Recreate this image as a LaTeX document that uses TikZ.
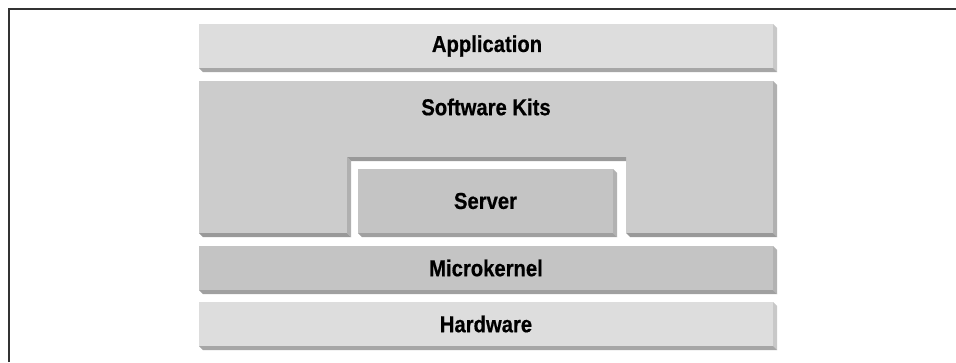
\documentclass[tikz,border=0pt]{standalone}
\usepackage{fontspec}
\newfontfamily\labfont[FakeStretch=0.88,FakeBold=0.6]{Liberation Sans}
\definecolor{lfface}{HTML}{DDDDDD}
\definecolor{lfside}{HTML}{C8C8C8}
\definecolor{lfbot}{HTML}{A6A6A6}
\definecolor{skface}{HTML}{CCCCCC}
\definecolor{skside}{HTML}{B0B0B0}
\definecolor{skbot}{HTML}{999999}
\definecolor{mdface}{HTML}{C4C4C4}
\definecolor{mdside}{HTML}{B2B2B2}
\definecolor{mdbot}{HTML}{A0A0A0}
\newcommand\bevelbox[5]{%
  \fill[#5face] (#1,#2) rectangle (#3,#4);
  \fill[#5side] (#3,#2) -- ({#3+4},{#2+4}) -- ({#3+4},{#4+4}) -- (#3,#4) -- cycle;
  \fill[#5bot] (#1,#4) -- ({#1+4},{#4+4}) -- ({#3+4},{#4+4}) -- (#3,#4) -- cycle;
}
\tikzset{lab/.style={font=\labfont\bfseries\fontsize{23}{23}\selectfont, text=black, inner sep=0pt}}
\begin{document}
\begin{tikzpicture}[x=1pt,y=-1pt]
\useasboundingbox (0,0) rectangle (956,362);
\fill[white] (0,0) rectangle (956,362);
% frame
\draw[line width=1.6pt, color=black!80] (8.7,362) -- (8.7,8.7) -- (956,8.7);
% Application
\bevelbox{199}{24}{773}{68}{lf}
% Software Kits
\fill[skface] (199,81) -- (773,81) -- (773,233) -- (626,233) -- (626,157) -- (347,157) -- (347,233) -- (199,233) -- cycle;
\fill[skside] (773,81) -- (777,85) -- (777,237) -- (773,233) -- cycle;
\fill[skside] (347,157) -- (351,161) -- (351,237) -- (347,233) -- cycle;
\fill[skbot] (347,157) -- (351,161) -- (626,161) -- (626,157) -- cycle;
\fill[skbot] (199,233) -- (203,237) -- (351,237) -- (347,233) -- cycle;
\fill[skbot] (626,233) -- (630,237) -- (777,237) -- (773,233) -- cycle;
% Server
\bevelbox{358}{169}{613}{233}{md}
% Microkernel
\bevelbox{199}{246}{773}{290}{md}
% Hardware
\bevelbox{199}{302}{773}{346}{lf}
% labels
\node[lab] (app) at (487,46) {Application};
\node[lab] (sk) at (486,107) {Software Kits};
\node[lab] (srv) at (485.5,201) {Server};
\node[lab] (mk) at (486,268) {Microkernel};
\node[lab] (hw) at (486,324) {Hardware};
\end{tikzpicture}
\end{document}
